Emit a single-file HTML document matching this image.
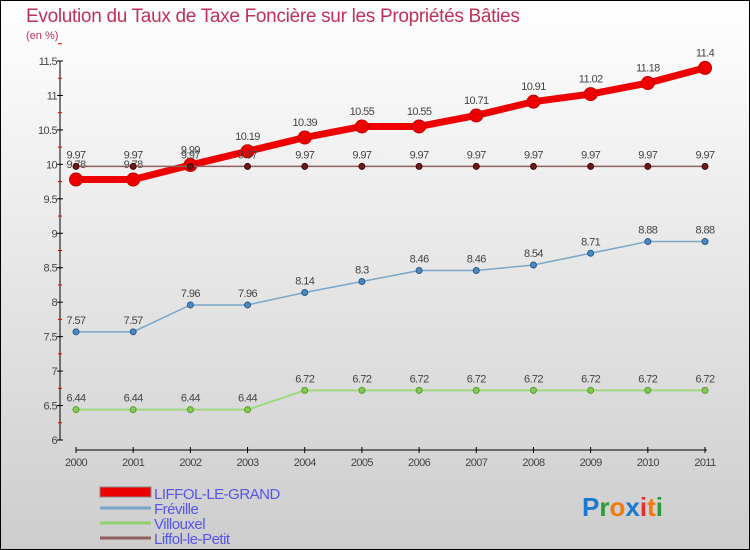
<!DOCTYPE html>
<html><head><meta charset="utf-8"><style>
body{margin:0;width:750px;height:550px;overflow:hidden;font-family:"Liberation Sans",sans-serif}
svg{display:block}
</style></head><body>
<svg width="750" height="550" id="c">
<defs><linearGradient id="bg" x1="0" y1="0" x2="0" y2="1"><stop offset="0" stop-color="#ffffff"/><stop offset="1" stop-color="#cdcdcd"/></linearGradient></defs>
<rect x="0.5" y="0.5" width="749" height="549" fill="url(#bg)" stroke="#000"/>
<text x="26" y="22" font-size="19" fill="#c0305a" letter-spacing="-0.3">Evolution du Taux de Taxe Foncière sur les Propriétés Bâties</text>
<text x="26" y="39" font-size="11" fill="#c0305a">(en %)</text>
<g id="axes"></g><g id="series"></g>
<g>
<rect x="100" y="487" width="51" height="10" fill="#e00" stroke="#888" stroke-width="1"/>
<text x="154" y="499" font-size="15" fill="#5555ee" letter-spacing="-0.5">LIFFOL-LE-GRAND</text>
<line x1="100" y1="508" x2="151" y2="508" stroke="#7aa6c8" stroke-width="3"/>
<text x="154" y="514" font-size="15" fill="#5555ee" letter-spacing="-0.5">Fréville</text>
<line x1="100" y1="523" x2="151" y2="523" stroke="#90d070" stroke-width="3"/>
<text x="154" y="529" font-size="15" fill="#5555ee" letter-spacing="-0.5">Villouxel</text>
<line x1="100" y1="538" x2="151" y2="538" stroke="#906060" stroke-width="3"/>
<text x="154" y="544" font-size="15" fill="#5555ee" letter-spacing="-0.5">Liffol-le-Petit</text>
</g>
<g font-size="26" font-weight="bold">
<text x="582" y="516"><tspan fill="#1a7ad0">P</tspan><tspan fill="#2a9a3a">r</tspan><tspan fill="#f07a10">o</tspan><tspan fill="#1a7ad0">x</tspan><tspan fill="#e03030">i</tspan><tspan fill="#f07a10">t</tspan><tspan fill="#2a9a3a">i</tspan></text>
</g>
</svg>
<script>
const years=[2000,2001,2002,2003,2004,2005,2006,2007,2008,2009,2010,2011];
const liffolGrand=[9.78,9.78,9.99,10.19,10.39,10.55,10.55,10.71,10.91,11.02,11.18,11.4];
const freville=[7.57,7.57,7.96,7.96,8.14,8.3,8.46,8.46,8.54,8.71,8.88,8.88];
const villouxel=[6.44,6.44,6.44,6.44,6.72,6.72,6.72,6.72,6.72,6.72,6.72,6.72];
const liffolPetit=[9.97,9.97,9.97,9.97,9.97,9.97,9.97,9.97,9.97,9.97,9.97,9.97];
const yTicks=[6,6.5,7,7.5,8,8.5,9,9.5,10,10.5,11,11.5];
const NS="http://www.w3.org/2000/svg";
const xS=i=>76+i*(629/11);
const yS=v=>440-(v-6)*(379/5.5);
function mk(t,a,p){const e=document.createElementNS(NS,t);for(const k in a)e.setAttribute(k,a[k]);p.appendChild(e);return e;}
const ax=document.getElementById('axes');
let l=mk('line',{x1:60,y1:yS(11.5),x2:60,y2:440,stroke:'#000'},ax);


yTicks.forEach(v=>{
 mk('line',{x1:57,y1:yS(v),x2:63,y2:yS(v),stroke:'#000'},ax);
 mk('line',{x1:58,y1:yS(v+0.25),x2:62,y2:yS(v+0.25),stroke:'#e00'},ax);
 const t=mk('text',{x:57,y:yS(v)+4,'font-size':11,fill:'#444','text-anchor':'end','letter-spacing':'-0.6'},ax);
 t.textContent=String(v);
 
 
});
l=mk('line',{x1:76,y1:450,x2:707,y2:450,stroke:'#000'},ax);


years.forEach((y,i)=>{
 mk('line',{x1:xS(i),y1:447,x2:xS(i),y2:453,stroke:'#000'},ax);
 const t=mk('text',{x:xS(i),y:466,'font-size':11,fill:'#444','text-anchor':'middle','letter-spacing':'-0.6'},ax);
 t.textContent=String(y);
 
 
});
const sg=document.getElementById('series');
function series(name,vals,col,w,r,dot,stroke){
 const g=mk('g',{},sg);
 
 
 const p=mk('polyline',{points:vals.map((v,i)=>xS(i)+','+yS(v)).join(' '),fill:'none',stroke:col,'stroke-width':w},g);
 
 
 vals.forEach((v,i)=>{
  const c=mk('circle',{cx:xS(i),cy:yS(v),r:r,fill:dot,stroke:stroke,'stroke-width':1},g);
  
  
  const t=mk('text',{x:xS(i),y:yS(v)-(r+5),'font-size':11,fill:'#444','text-anchor':'middle','letter-spacing':'-0.6'},g);
  t.textContent=String(v);
  
  
 });
}
series('villouxel',villouxel,'#a0d880',2,3,'#80cc50','#5a9a30');
series('freville',freville,'#7aa6c8',1.5,3,'#4a8ac0','#2a5a8a');
series('liffol-le-grand',liffolGrand,'#ee0000',7,6.5,'#ee0000','#c00000');
series('liffol-le-petit',liffolPetit,'#906060',1.5,3,'#6a1a1a','#400');
</script>
</body></html>
